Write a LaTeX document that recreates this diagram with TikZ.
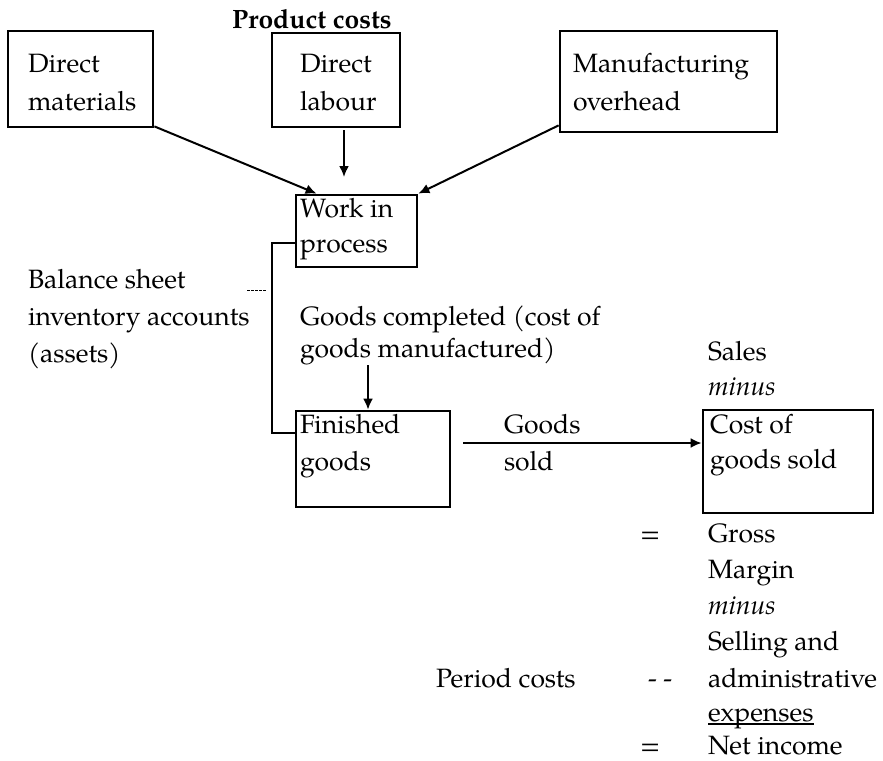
\documentclass[tikz,border=0pt]{standalone}
\usepackage{fontspec}
\setmainfont{TeX Gyre Pagella}
\usetikzlibrary{arrows.meta}
\begin{document}
\begin{tikzpicture}[x=1pt,y=-1pt,
  font=\fontsize{26.5}{36}\selectfont,
  box/.style={draw,line width=2.8pt,rectangle,inner sep=0pt},
  txt/.style={anchor=base west,inner sep=0pt,outer sep=0pt},
  flow/.style={line width=2pt,-{Latex[length=11pt,width=10pt]}},
  link/.style={line width=2pt}]
\useasboundingbox (0,0) rectangle (883,760);

% account boxes
\node[box,minimum width=145pt,minimum height=96pt] (dm) at (80.5,79) {};
\node[box,minimum width=128pt,minimum height=94pt] (dl) at (336,80) {};
\node[box,minimum width=217pt,minimum height=101pt] (mo) at (668.5,81.5) {};
\node[box,minimum width=121pt,minimum height=72pt] (wip) at (356.5,231) {};
\node[box,minimum width=154pt,minimum height=96pt] (fg) at (373,459) {};
\node[box,minimum width=170pt,minimum height=103pt] (cgs) at (788,461.5) {};

% labels
\node[txt,font=\fontsize{26.5}{36}\selectfont\bfseries] (pc) at (232,29) {Product costs};
\node[txt] (dm1) at (28,73) {Direct};
\node[txt] (dm2) at (28,110) {materials};
\node[txt] (dl1) at (300,73) {Direct};
\node[txt] (dl2) at (300,110) {labour};
\node[txt] (mo1) at (573,73) {Manufacturing};
\node[txt] (mo2) at (573,110) {overhead};
\node[txt] (wip1) at (300,217) {Work in};
\node[txt] (wip2) at (300,252) {process};
\node[txt] (bs1) at (28,288) {Balance sheet};
\node[txt] (bs2) at (28,325) {inventory accounts};
\node[txt] (bs3) at (28,362) {(assets)};
\node[txt] (gc1) at (300,325) {Goods completed (cost of};
\node[txt] (gc2) at (300,357) {goods manufactured)};
\node[txt] (fg1) at (300,433) {Finished};
\node[txt] (fg2) at (300,470) {goods};
\node[txt] (gs1) at (504,433) {Goods};
\node[txt] (gs2) at (504,470) {sold};
\node[txt] (sales) at (708,360) {Sales};
\node[txt] (minus1) at (708,395) {\itshape minus};
\node[txt] (cgs1) at (710,433) {Cost of};
\node[txt] (cgs2) at (710,468) {goods sold};
\node[txt] (eq1) at (640,542) {=};
\node[txt] (gm1) at (708,542) {Gross};
\node[txt] (gm2) at (708,578) {Margin};
\node[txt] (minus2) at (708,614) {\itshape minus};
\node[txt] (sa1) at (708,650) {Selling and};
\node[txt] (per) at (436,687) {Period costs};
\node[txt] (dd) at (648,687) {- -};
\node[txt] (sa2) at (708,687) {administrative};
\node[txt] (sa3) at (708,721) {expenses};
\node[txt] (eq2) at (640,754) {=};
\node[txt] (ni) at (708,754) {Net income};

% underline of the expenses line
\draw[line width=1.4pt] ([yshift=-3pt]sa3.base west) -- ([yshift=-3pt]sa3.base east);

% free ends of connectors
\coordinate (dlout) at (344,130);
\coordinate (dlin) at (344,177);
\coordinate (gcout) at (368,365);
\coordinate (gsout) at (463,443);
\coordinate (dash1) at (247,290);
\coordinate (dash2) at (267,290);

% cost flows
\draw[flow] ([yshift=2pt]dm.south east) -- ([xshift=22pt]wip.north west);
\draw[flow] (dlout) -- (dlin);
\draw[flow] ([yshift=8pt]mo.south west) -- (wip.north east);
\draw[flow] (gcout) -- ([xshift=-5pt]fg.north);
\draw[flow] (gsout) -- (gsout -| cgs.west);

% inventory bracket
\draw[link] ([yshift=-12pt]wip.west) -- ++(-23,0) |- ([yshift=26pt]fg.west);
\draw[line width=0.8pt,dash pattern=on 2.5pt off 1.5pt] (dash1) -- (dash2);
\end{tikzpicture}
\end{document}
